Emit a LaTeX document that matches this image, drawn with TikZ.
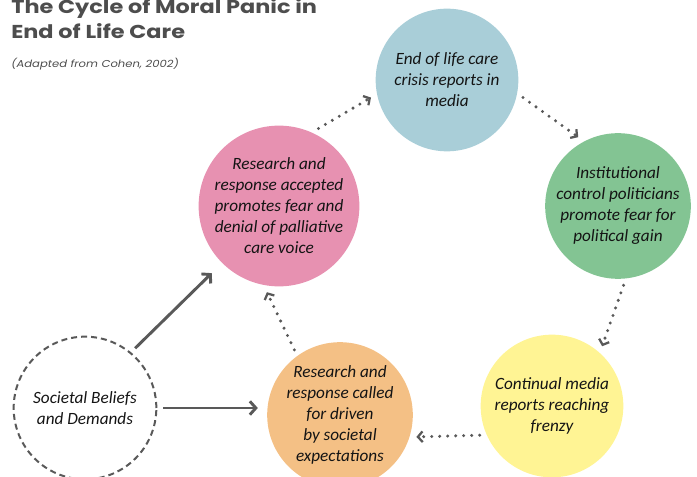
\documentclass[tikz,border=0pt]{standalone}
\usepackage{fontspec}
\setmainfont{Carlito}
\newfontfamily\titlefont{Poppins}[FakeStretch=1.2]
\newfontfamily\subfont{Poppins}[FakeStretch=1.16]
\usetikzlibrary{arrows.meta}
\definecolor{cblue}{HTML}{A9CED8}
\definecolor{cgreen}{HTML}{83C493}
\definecolor{cyellow}{HTML}{FFF494}
\definecolor{corange}{HTML}{F4C085}
\definecolor{cpink}{HTML}{E791B1}
\definecolor{arrowgray}{HTML}{595959}
\definecolor{titlegray}{HTML}{4D4D4D}
\definecolor{txt}{HTML}{141414}
\begin{document}
\begin{tikzpicture}[x=0.75pt,y=-0.75pt,
  cyc/.style={circle, minimum size=107pt, inner sep=0pt, outer sep=5pt, align=center,
    font=\itshape\fontsize{12.9}{15.75}\selectfont, text=txt},
  dotarrow/.style={draw=arrowgray, line width=2.5pt, dash pattern=on 0pt off 6pt, line cap=round,
    -{Straight Barb[length=3.5pt,width=8pt,line width=1.7pt]}},
  solidarrow/.style={draw=arrowgray, line width=2.2pt,
    -{Straight Barb[length=4.5pt,width=10pt]}}]
\useasboundingbox (0,0) rectangle (697,477);
% title
\node[anchor=base west, inner sep=0pt, text=titlegray, font=\titlefont\bfseries\fontsize{14}{16}\selectfont] (t1) at (11,14) {The Cycle of Moral Panic in};
\node[anchor=base west, inner sep=0pt, text=titlegray, font=\titlefont\bfseries\fontsize{14}{16}\selectfont] (t2) at (11,39) {End of Life Care};
\node[anchor=base west, inner sep=0pt, text=titlegray, font=\subfont\itshape\fontsize{7.5}{9}\selectfont] (sub) at (11,68) {(Adapted from Cohen, 2002)};
% circles
\node[cyc, fill=cblue] (blue) at (447,80) {End of life care\\crisis reports in\\media};
\node[cyc, fill=cgreen] (green) at (618,206) {Institutional\\control politicians\\promote fear for\\political gain};
\node[cyc, fill=cyellow] (yellow) at (552,406) {Continual media\\reports reaching\\frenzy};
\node[cyc, fill=corange] (orange) at (340,415) {Research and\\response called\\for driven\\by societal\\expectations};
\node[cyc, fill=cpink] (pink) at (279,206) {Research and\\response accepted\\promotes fear and\\denial of palliative\\care voice};
\node[cyc, draw=arrowgray, line width=1.5pt, dash pattern=on 4.5pt off 3pt] (soc) at (85,408) {Societal Beliefs\\and Demands};
% cycle arrows
\draw[dotarrow] (pink.63) -- (blue.193);
\draw[dotarrow] (blue.-13) -- (green.120);
\draw[dotarrow] (green.-86) -- (yellow.50);
\draw[dotarrow] (yellow.202) -- (orange.-16);
\draw[dotarrow] (orange.125) -- (pink.-98);
% solid arrows
\draw[solidarrow, shorten >=6pt] (soc.50) -- (pink.225);
\draw[solidarrow, shorten >=2pt] (soc.east) -- (orange.west |- soc.east);
\end{tikzpicture}
\end{document}
